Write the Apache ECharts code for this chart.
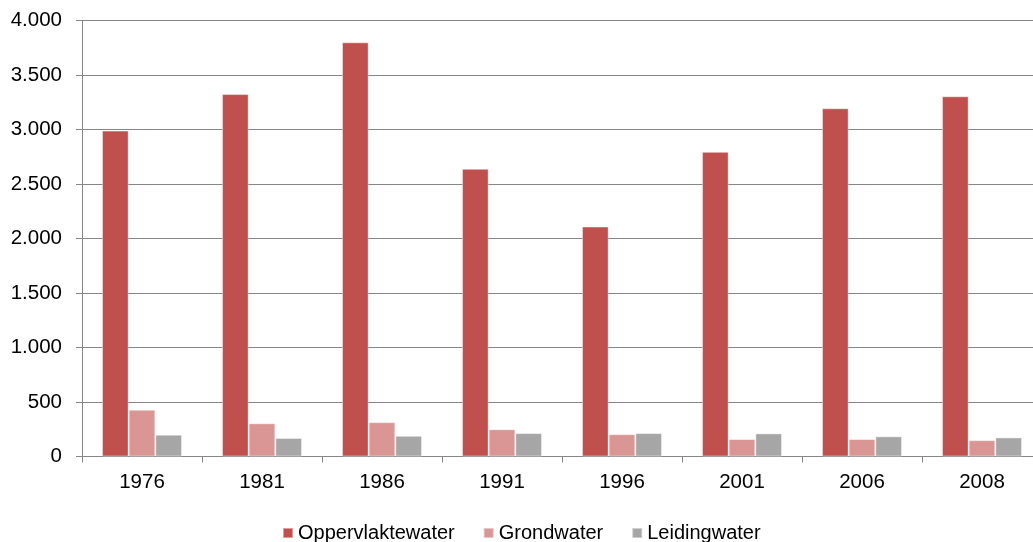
<!DOCTYPE html>
<html>
<head>
<meta charset="utf-8">
<script src="https://cdn.jsdelivr.net/npm/echarts@6/dist/echarts.min.js"></script>
<style>
  html, body { margin: 0; padding: 0; background: #ffffff; overflow: hidden; }
  #chart { width: 1042px; height: 542px; }
</style>
</head>
<body>
<div id="chart"></div>
<script>
// Watergebruik per bron, per peiljaar
const years = ['1976', '1981', '1986', '1991', '1996', '2001', '2006', '2008'];
const oppervlaktewater = [2990, 3325, 3800, 2640, 2110, 2795, 3195, 3305];
const grondwater = [430, 305, 315, 250, 205, 160, 160, 150];
const leidingwater = [200, 170, 190, 215, 215, 212, 185, 175];
const seriesNames = ['Oppervlaktewater', 'Grondwater', 'Leidingwater'];
const seriesColors = ['#C0504D', '#D99694', '#A6A6A6'];

const FONT = '"Liberation Sans", Arial, sans-serif';
const AXIS_GREY = '#868686';

// Dutch thousands separator: 1.500, 4.000
function nl(v) {
  return String(v).replace(/\B(?=(\d{3})+(?!\d))/g, '.');
}

const chart = echarts.init(document.getElementById('chart'), null, { renderer: 'canvas' });

const seriesData = [oppervlaktewater, grondwater, leidingwater];

chart.setOption({
  animation: false,
  backgroundColor: '#ffffff',
  textStyle: { fontFamily: FONT },
  grid: { left: 82, top: 20.5, bottom: 85.5, right: 0, containLabel: false },
  legend: {
    data: seriesNames,
    left: 282,
    top: 523,
    padding: 0,
    itemWidth: 10,
    itemHeight: 10,
    itemGap: 28,
    icon: 'rect',
    textStyle: { fontFamily: FONT, fontSize: 20, color: '#000000' }
  },
  xAxis: {
    type: 'category',
    data: years,
    axisLine: { lineStyle: { color: AXIS_GREY, width: 1 } },
    axisTick: { show: true, length: 6, lineStyle: { color: AXIS_GREY } },
    axisLabel: { fontFamily: FONT, fontSize: 20.5, color: '#000000', margin: 15 },
    splitLine: { show: false }
  },
  yAxis: {
    type: 'value',
    min: 0,
    max: 4000,
    interval: 500,
    axisLine: { show: true, lineStyle: { color: AXIS_GREY, width: 1 } },
    axisTick: { show: true, length: 6, lineStyle: { color: AXIS_GREY } },
    axisLabel: { fontFamily: FONT, fontSize: 20.5, color: '#000000', margin: 20, formatter: nl },
    splitLine: { show: true, lineStyle: { color: AXIS_GREY, width: 1 } }
  },
  series: seriesNames.map((name, i) => ({
    name: name,
    type: 'bar',
    data: seriesData[i],
    barGap: '0%',
    barCategoryGap: '33.3%',
    itemStyle: {
      color: seriesColors[i],
      borderColor: 'rgba(255,255,255,0.45)',
      borderWidth: 1
    }
  }))
});
</script>
</body>
</html>
